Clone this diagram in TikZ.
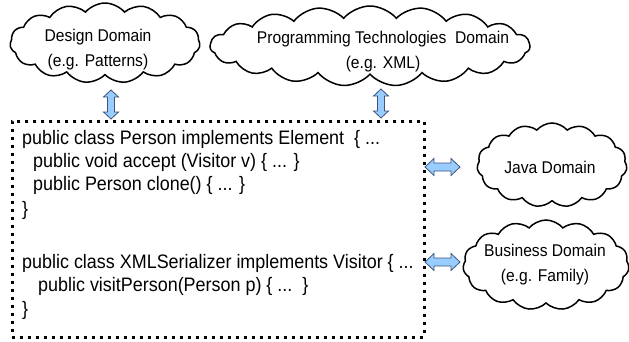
\documentclass[tikz,border=0pt]{standalone}
\usepackage{fontspec}
\setmainfont[FakeStretch=0.92]{Liberation Sans}
\usetikzlibrary{shapes.symbols}
\definecolor{arrfill}{RGB}{153,204,255}
\definecolor{arrline}{RGB}{60,85,120}
\tikzset{
  domcloud/.style={cloud, cloud puffs=15, cloud puff arc=100, cloud ignores aspect, draw=black, line width=1.5pt, inner sep=0pt},
  cloudtext/.style={align=center, inner sep=0pt, font=\fontsize{17}{25}\selectfont},
  codebox/.style={draw=black, line width=3pt, dash pattern=on 3pt off 5pt, inner sep=0pt},
  codeline/.style={anchor=base west, inner sep=0pt, font=\fontsize{19.5}{23}\selectfont},
  blockarrow/.style={fill=arrfill, draw=arrline, line width=0.8pt, line join=miter},
  varrow/.pic={\path[blockarrow] (0,-14.5) -- (7.5,-7.5) -- (3.5,-7.5) -- (3.5,7.5) -- (7.5,7.5) -- (0,14.5)
      -- (-7.5,7.5) -- (-3.5,7.5) -- (-3.5,-7.5) -- (-7.5,-7.5) -- cycle;},
  harrow/.pic={\path[blockarrow] (-17.5,0) -- (-8.5,-8.5) -- (-8.5,-4) -- (8.5,-4) -- (8.5,-8.5) -- (17.5,0)
      -- (8.5,8.5) -- (8.5,4) -- (-8.5,4) -- (-8.5,8.5) -- cycle;}
}
\begin{document}
\begin{tikzpicture}[x=1pt,y=-1pt]
\useasboundingbox (0,0) rectangle (629,341);
% clouds
\node[domcloud, minimum width=190pt, minimum height=80pt] (design) at (105,43) {};
\node[domcloud, cloud puffs=19, minimum width=320pt, minimum height=80pt] (prog) at (370,46) {};
\node[domcloud, minimum width=150pt, minimum height=84pt] (java) at (552,165) {};
\node[domcloud, minimum width=166pt, minimum height=90pt] (business) at (546,265) {};
\node[cloudtext] (designtxt) at (98,49.5) {Design Domain\\(e.g. Patterns)};
\node[cloudtext] (progtxt) at (383,52) {Programming Technologies\ \ Domain\\(e.g. XML)};
\node[cloudtext] (javatxt) at (550,167) {Java Domain};
\node[cloudtext] (businesstxt) at (545,264.5) {Business Domain\\(e.g. Family)};
% code box
\node[codebox, minimum width=412pt, minimum height=216pt] (box) at (218,229) {};
\node[codeline] (l1) at (22,144) {public class Person implements Element\ \ \{ ...};
\node[codeline] (l2) at (33,167) {public void accept (Visitor v) \{ ... \}};
\node[codeline] (l3) at (33,190) {public Person clone() \{ ... \}};
\node[codeline] (l4) at (22,215) {\}};
\node[codeline] (l5) at (22,268) {public class XMLSerializer implements Visitor \{ ...};
\node[codeline] (l6) at (38,291) {public visitPerson(Person p) \{ ...\ \ \}};
\node[codeline] (l7) at (22,315) {\}};
% block arrows
\pic at (111,104.5) {varrow};
\pic at (381,103.5) {varrow};
\pic at (442.5,167) {harrow};
\pic at (442.5,262) {harrow};
\end{tikzpicture}
\end{document}
